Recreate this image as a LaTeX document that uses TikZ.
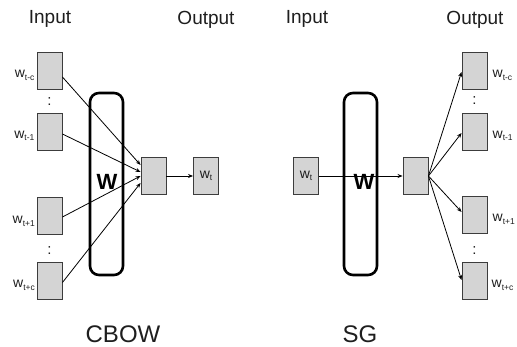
\documentclass[tikz,border=0pt]{standalone}
\usepackage{fontspec}
\setmainfont{Liberation Sans}
\usetikzlibrary{arrows.meta,calc}
\definecolor{boxfill}{RGB}{212,212,212}
\definecolor{boxline}{RGB}{60,60,60}
\definecolor{txt}{RGB}{30,30,30}
\newcommand{\wsub}[1]{{\fontsize{14}{14}\selectfont w\raisebox{-2.5pt}{\fontsize{8.5}{8.5}\selectfont #1}}}
\begin{document}
\begin{tikzpicture}[x=1pt,y=-1pt,
 vec/.style={draw=boxline,fill=boxfill,line width=0.9pt,minimum width=25pt,minimum height=37pt,inner sep=0pt},
 wmat/.style={draw=black,line width=2.6pt,rounded corners=9pt,minimum width=33pt,minimum height=182pt,inner sep=0pt},
 head/.style={font=\fontsize{19}{19}\selectfont,text=txt,anchor=base,inner sep=0pt},
 ttl/.style={font=\fontsize{24}{24}\selectfont,text=txt,anchor=base,inner sep=0pt},
 wlab/.style={font=\fontsize{22}{22}\selectfont\bfseries,anchor=base,inner sep=0pt},
 vdots/.style={font=\fontsize{15}{15}\selectfont,inner sep=0pt,text=txt},
 lleft/.style={anchor=base east,inner sep=0pt,text=txt},
 lright/.style={anchor=base west,inner sep=0pt,text=txt},
 conn/.style={line width=0.8pt,-{Stealth[length=5pt,width=4pt]}},
]
\useasboundingbox (0,0) rectangle (517,347);

% ---------------- CBOW ----------------
\node[head] (inL) at (50,24) {Input};
\node[head] (outL) at (206,24.5) {Output};
\node[ttl] (cbow) at (123,343) {CBOW};

\node[wmat] (WL) at (106.5,184) {};
\node[wlab] (WLt) at (107,190) {W};

\node[vec] (i1) at (49.5,70.5) {};
\node[vec] (i2) at (49.5,131.5) {};
\node[vec] (i3) at (49.5,216) {};
\node[vec] (i4) at (49.5,281) {};
\node[vdots] (d1) at (49.5,102) {:};
\node[vdots] (d2) at (49.5,251) {:};

\node[lleft] (l1) at ([xshift=-2pt,yshift=-7.5pt]i1.west) {\wsub{t-c}};
\node[lleft] (l2) at ([xshift=-2pt,yshift=-7pt]i2.west) {\wsub{t-1}};
\node[lleft] (l3) at ([xshift=-1.5pt,yshift=-8pt]i3.west) {\wsub{t+1}};
\node[lleft] (l4) at ([xshift=-1.5pt,yshift=-7pt]i4.west) {\wsub{t+c}};

\node[vec] (hL) at (153.5,176) {};
\node[vec,text=txt] (oL) at (206,176) {\wsub{t}};

\draw[conn] ([yshift=-6.5pt]i1.east) -- ([yshift=11pt]hL.west);
\draw[conn] ([yshift=-2.5pt]i2.east) -- ([yshift=4pt]hL.west);
\draw[conn] ([yshift=-1pt]i3.east) -- ([yshift=0pt]hL.west);
\draw[conn] ([yshift=-1.5pt]i4.east) -- ([yshift=-7pt]hL.west);
\draw[conn] (hL.east) -- (oL.west);

% ---------------- SG ----------------
\node[head] (inR) at (307,24) {Input};
\node[head] (outR) at (475,24.5) {Output};
\node[ttl] (sg) at (360,343) {SG};

\node[wmat] (WR) at (360.5,184) {};
\node[wlab] (WRt) at (364,190) {W};

\node[vec,text=txt] (iR) at (306,176) {\wsub{t}};
\node[vec] (hR) at (415.5,176) {};

\node[vec] (o1) at (474.5,70.5) {};
\node[vec] (o2) at (474.5,131.5) {};
\node[vec] (o3) at (474.5,215) {};
\node[vec] (o4) at (474.5,281) {};
\node[vdots] (d3) at (474.5,101) {:};
\node[vdots] (d4) at (474.5,251) {:};

\node[lright] (r1) at ([xshift=5pt,yshift=-7.5pt]o1.east) {\wsub{t-c}};
\node[lright] (r2) at ([xshift=5pt,yshift=-7pt]o2.east) {\wsub{t-1}};
\node[lright] (r3) at ([xshift=5pt,yshift=-7pt]o3.east) {\wsub{t+1}};
\node[lright] (r4) at ([xshift=4pt,yshift=-7pt]o4.east) {\wsub{t+c}};

\draw[conn] (iR.east) -- (hR.west);
\draw[conn] (hR.east) -- ([yshift=-1.5pt]o1.west);
\draw[conn] (hR.east) -- ([yshift=-1.5pt]o2.west);
\draw[conn] (hR.east) -- ([yshift=3pt]o3.west);
\draw[conn] (hR.east) -- ([yshift=1pt]o4.west);
\end{tikzpicture}
\end{document}
